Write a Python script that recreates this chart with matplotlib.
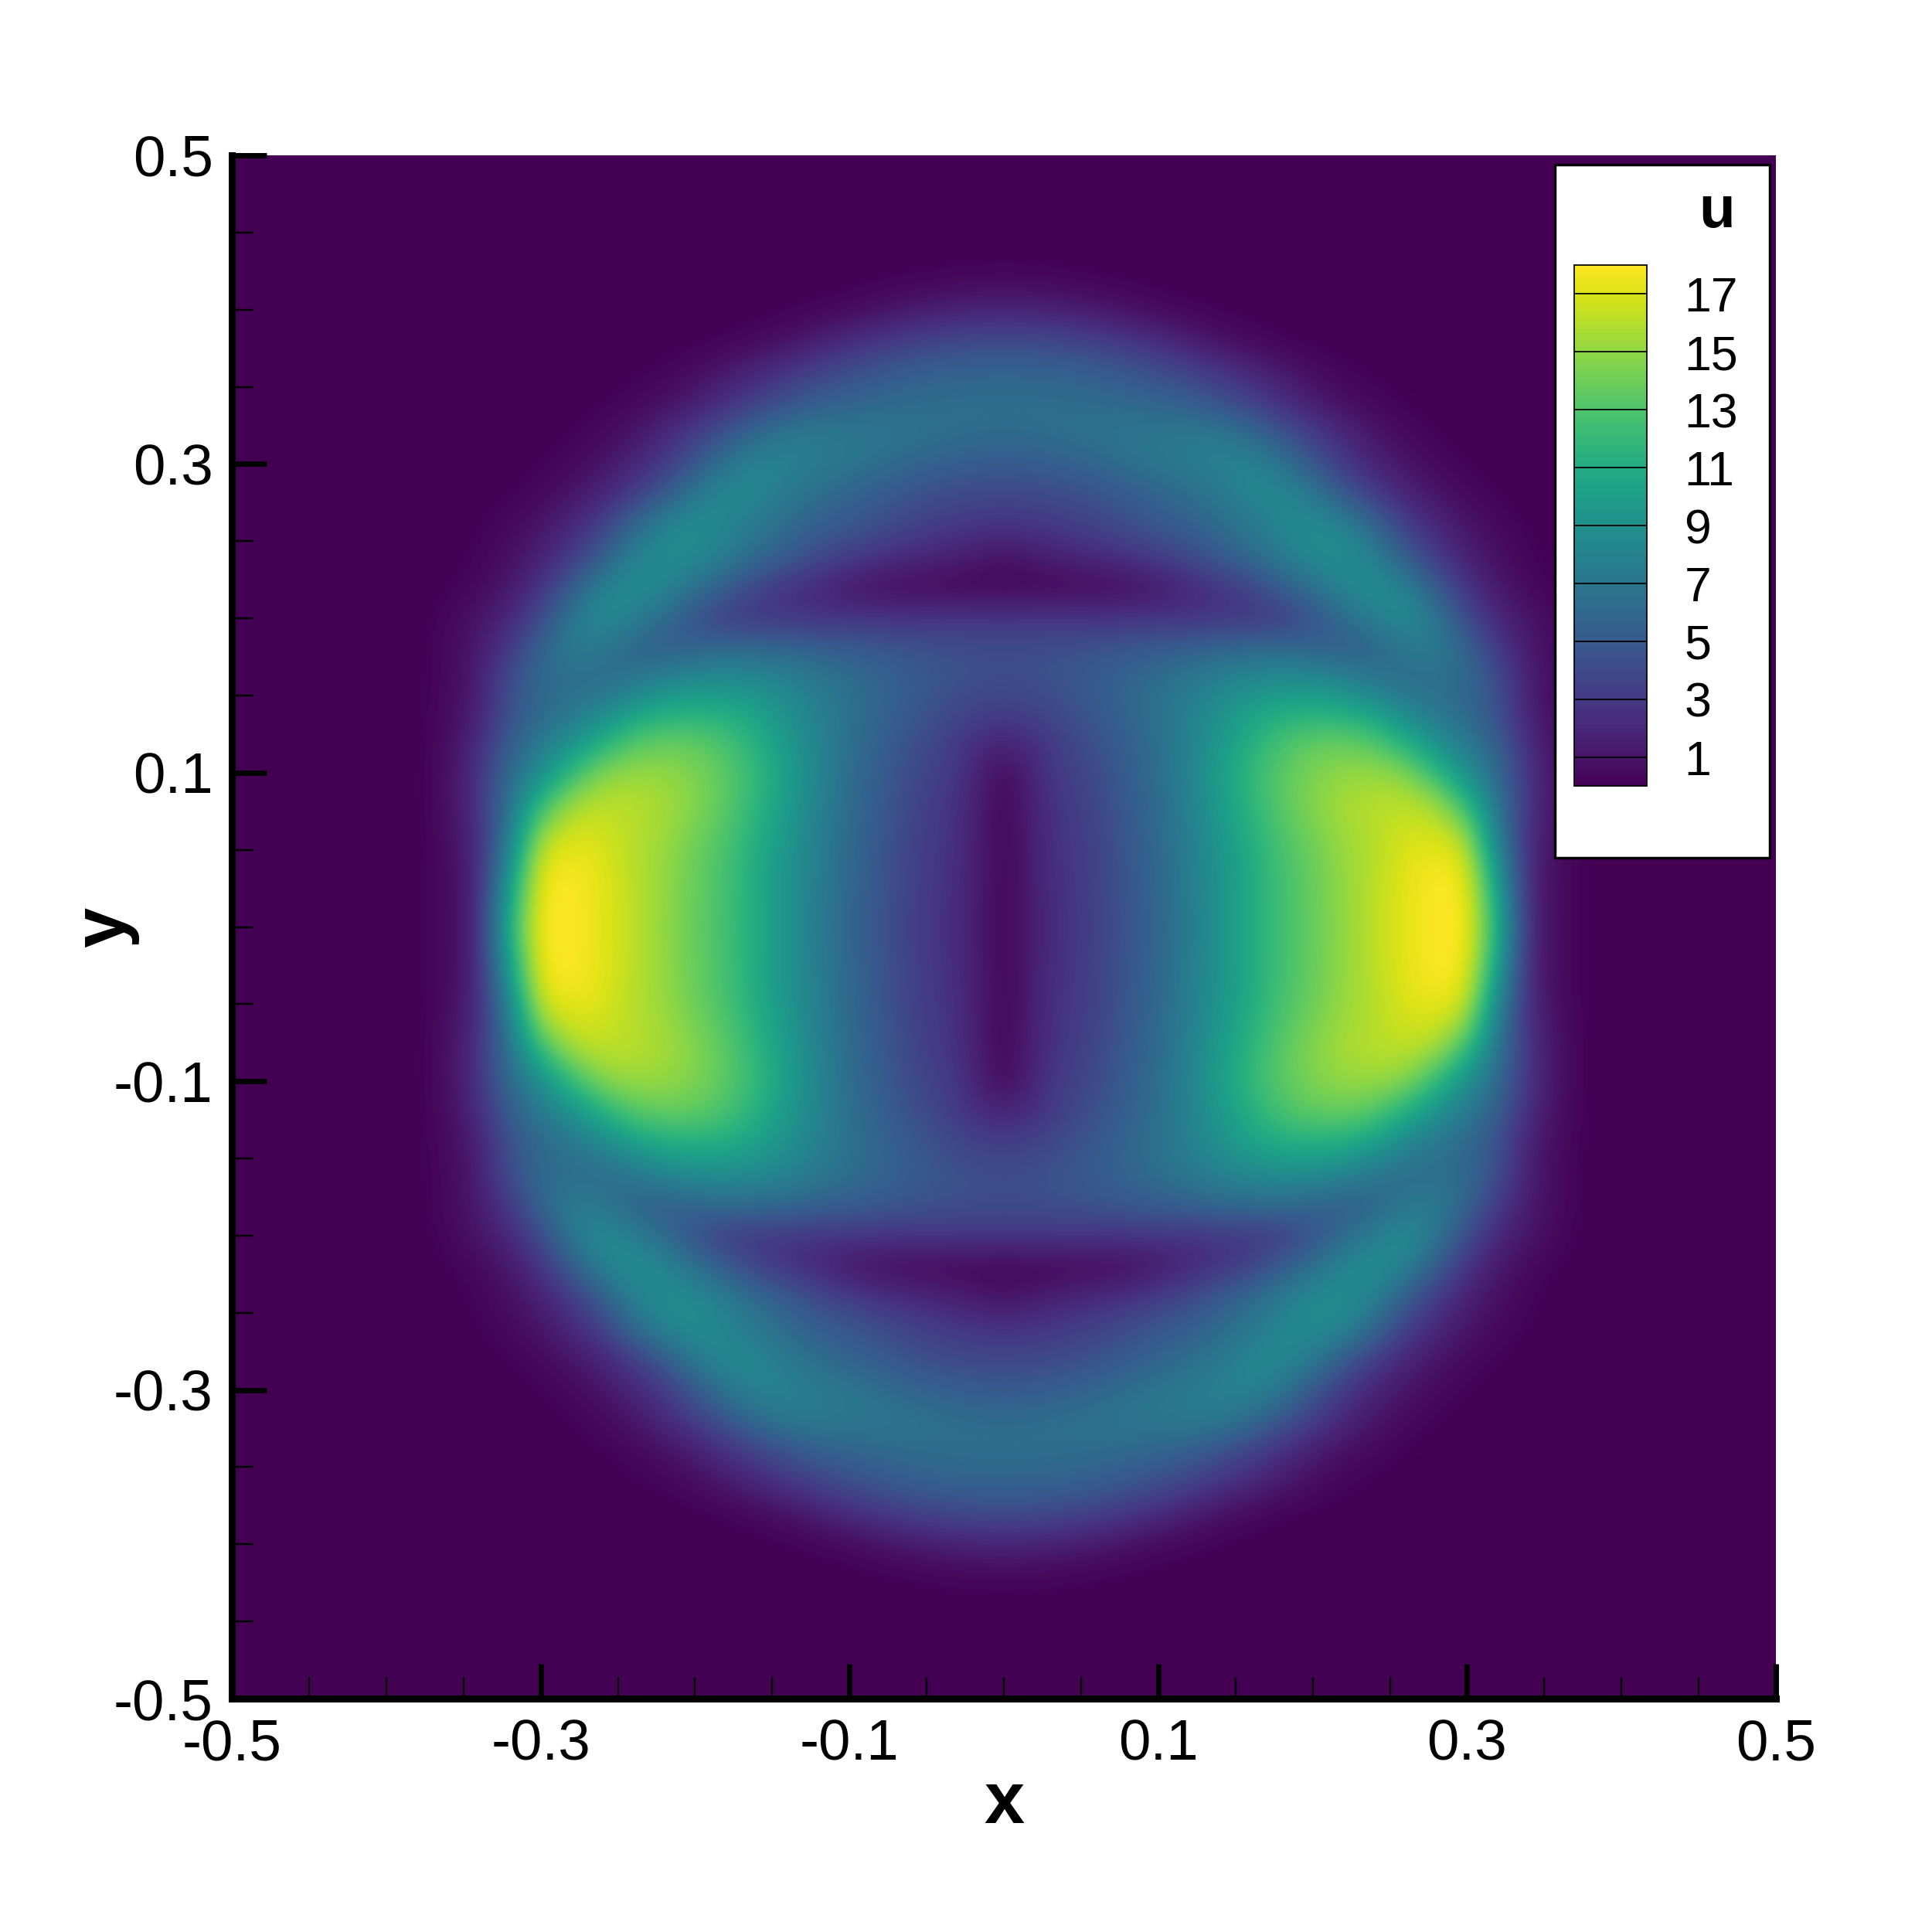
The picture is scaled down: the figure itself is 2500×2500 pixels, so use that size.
import numpy as np
import matplotlib

matplotlib.use("Agg")
import matplotlib.pyplot as plt
from matplotlib.patches import Rectangle
from matplotlib.ticker import MultipleLocator

plt.rcParams["font.family"] = ["Liberation Sans", "DejaVu Sans"]

# u, upper right quadrant
# rows y = 0, 0.02 ... 0.42, columns x = 0, 0.02 ... 0.36
u_quadrant = [
    [0.1, 1.6, 2.6, 3.4, 4.6, 5.8, 7.4, 9.2, 11.0, 12.5, 13.8, 15.0, 16.2, 17.3, 18.0, 18.0, 11.5, 1.8, 0.5],
    [0.1, 1.6, 2.7, 3.5, 4.7, 5.9, 7.5, 9.2, 11.0, 12.6, 13.8, 15.1, 16.2, 17.3, 18.0, 17.9, 10.5, 1.8, 0.5],
    [0.1, 1.7, 2.8, 3.5, 4.8, 6.0, 7.6, 9.2, 10.9, 12.7, 13.8, 15.2, 16.0, 17.2, 17.8, 17.3, 9.0, 1.9, 0.5],
    [0.1, 1.7, 2.9, 3.6, 4.9, 6.1, 7.7, 9.5, 11.3, 13.0, 14.2, 15.4, 16.0, 16.8, 17.0, 15.5, 7.5, 2.2, 0.6],
    [0.2, 1.8, 3.0, 3.8, 5.1, 6.2, 7.9, 9.8, 11.7, 13.4, 14.7, 15.6, 16.1, 16.2, 15.5, 12.0, 6.8, 2.6, 0.7],
    [0.3, 2.0, 3.4, 4.0, 5.3, 6.4, 8.1, 10.0, 12.0, 13.4, 14.5, 15.1, 15.2, 14.7, 12.0, 8.8, 6.2, 2.6, 0.7],
    [1.8, 2.4, 3.6, 4.4, 5.5, 6.5, 8.0, 9.5, 11.3, 12.8, 13.6, 13.8, 13.2, 11.2, 9.0, 7.3, 5.3, 2.1, 0.6],
    [3.2, 3.6, 4.2, 5.0, 5.8, 6.8, 7.8, 9.0, 10.3, 11.0, 11.3, 11.0, 10.0, 8.3, 7.0, 6.0, 4.4, 1.6, 0.5],
    [4.3, 4.4, 4.7, 5.2, 5.8, 6.5, 7.2, 8.0, 8.5, 8.8, 8.7, 8.2, 7.0, 6.2, 6.3, 6.2, 4.3, 1.4, 0.4],
    [4.2, 4.3, 4.4, 4.7, 5.0, 5.3, 5.6, 6.0, 6.2, 6.2, 5.8, 5.2, 5.6, 7.0, 7.6, 5.8, 2.9, 1.3, 0.4],
    [2.8, 2.8, 2.8, 2.7, 2.7, 2.7, 2.7, 2.8, 2.9, 3.1, 4.4, 6.1, 7.8, 8.8, 7.2, 4.0, 2.0, 1.0, 0.3],
    [0.2, 0.2, 0.3, 0.4, 0.6, 1.1, 1.9, 2.5, 3.5, 5.2, 6.6, 8.3, 8.8, 8.0, 5.2, 2.6, 1.2, 0.4, 0.1],
    [0.8, 1.3, 1.7, 2.1, 2.5, 3.2, 3.9, 5.2, 6.2, 7.5, 8.6, 8.8, 8.0, 5.2, 3.0, 1.6, 0.7, 0.2, 0.0],
    [2.6, 2.8, 3.1, 3.6, 4.2, 4.9, 5.4, 6.2, 7.2, 8.2, 8.8, 8.2, 6.0, 3.4, 2.0, 1.0, 0.4, 0.1, 0.0],
    [3.8, 3.9, 4.1, 4.5, 5.1, 5.7, 6.4, 7.2, 8.3, 8.5, 7.4, 5.0, 3.2, 1.8, 1.0, 0.4, 0.1, 0.0, 0.0],
    [5.0, 5.2, 5.5, 5.9, 6.5, 7.0, 7.5, 7.9, 8.2, 7.0, 4.8, 3.0, 1.8, 1.0, 0.4, 0.1, 0.0, 0.0, 0.0],
    [6.3, 6.4, 6.6, 6.8, 7.0, 7.2, 7.3, 7.3, 6.2, 4.6, 3.2, 2.0, 1.0, 0.4, 0.1, 0.0, 0.0, 0.0, 0.0],
    [6.5, 6.5, 6.4, 6.3, 6.1, 5.8, 5.4, 4.4, 3.4, 2.4, 1.4, 0.7, 0.3, 0.1, 0.0, 0.0, 0.0, 0.0, 0.0],
    [5.8, 5.7, 5.6, 5.3, 4.8, 4.2, 3.5, 2.7, 2.0, 1.2, 0.6, 0.2, 0.1, 0.0, 0.0, 0.0, 0.0, 0.0, 0.0],
    [4.0, 3.9, 3.7, 3.3, 2.8, 2.2, 1.5, 0.8, 0.4, 0.1, 0.0, 0.0, 0.0, 0.0, 0.0, 0.0, 0.0, 0.0, 0.0],
    [1.8, 1.7, 1.5, 1.2, 0.8, 0.4, 0.2, 0.05, 0.0, 0.0, 0.0, 0.0, 0.0, 0.0, 0.0, 0.0, 0.0, 0.0, 0.0],
    [0.35, 0.3, 0.2, 0.1, 0.05, 0.0, 0.0, 0.0, 0.0, 0.0, 0.0, 0.0, 0.0, 0.0, 0.0, 0.0, 0.0, 0.0, 0.0],
]
major_ticks = [-0.5, -0.3, -0.1, 0.1, 0.3, 0.5]
legend_levels = [1, 3, 5, 7, 9, 11, 13, 15, 17]
U_MIN, U_MAX = 0, 18

# mirror the quadrant over both axes, the rest of the domain up to +-0.5 is zero
quad = np.array(u_quadrant)
quad = np.pad(quad, ((0, 26 - quad.shape[0]), (0, 26 - quad.shape[1])))
field = np.hstack([quad[:, :0:-1], quad])
field = np.vstack([field[:0:-1], field])

PX = 2500.0
fig = plt.figure(figsize=(10, 10), dpi=250)
L, R, T, B = 300, 2298, 201, 2198
ax = fig.add_axes([L / PX, 1 - B / PX, (R - L) / PX, (B - T) / PX])

im = ax.imshow(field, origin="lower", extent=(-0.51, 0.51, -0.51, 0.51),
               cmap="viridis", vmin=U_MIN, vmax=U_MAX, interpolation="bicubic", aspect="auto")
ax.set_xlim(-0.5, 0.5)
ax.set_ylim(-0.5, 0.5)

for side in ("top", "right"):
    ax.spines[side].set_visible(False)
for side in ("left", "bottom"):
    ax.spines[side].set_linewidth(2.6)

ax.set_xticks(major_ticks)
ax.set_yticks(major_ticks)
ax.set_xticklabels([f"{t:g}" for t in major_ticks])
ax.set_yticklabels([f"{t:g}" for t in major_ticks])
ax.xaxis.set_minor_locator(MultipleLocator(0.05))
ax.yaxis.set_minor_locator(MultipleLocator(0.05))
ax.tick_params(which="major", direction="in", length=13, width=2.0, labelsize=21.5)
ax.tick_params(axis="x", which="major", pad=7.4)
ax.tick_params(axis="y", which="major", pad=7)
ax.tick_params(which="minor", direction="in", length=8, width=0.7)

ax.set_xlabel("x", fontsize=27, fontweight="bold", va="center")
ax.set_ylabel("y", fontsize=27, fontweight="bold", va="center")
ax.xaxis.set_label_coords(0.5, -0.0686)
ax.yaxis.set_label_coords(-0.082, 0.5)

# legend box
ax.add_patch(Rectangle((0.357, 0.045), 0.139, 0.449, facecolor="white",
                       edgecolor="black", linewidth=1.0, zorder=5))
ax.text(0.462, 0.463, "u", fontsize=22, fontweight="bold", ha="center", va="center", zorder=6)

cax = fig.add_axes([2037 / PX, 1 - 1017 / PX, 94 / PX, 674 / PX])
cbar = fig.colorbar(im, cax=cax, ticks=legend_levels)
cbar.ax.tick_params(length=0, labelsize=18, pad=14)
cbar.outline.set_linewidth(0.5)
cax.hlines(legend_levels, 0, 1, color="black", linewidth=0.5)

fig.savefig("out.png", dpi=250)
